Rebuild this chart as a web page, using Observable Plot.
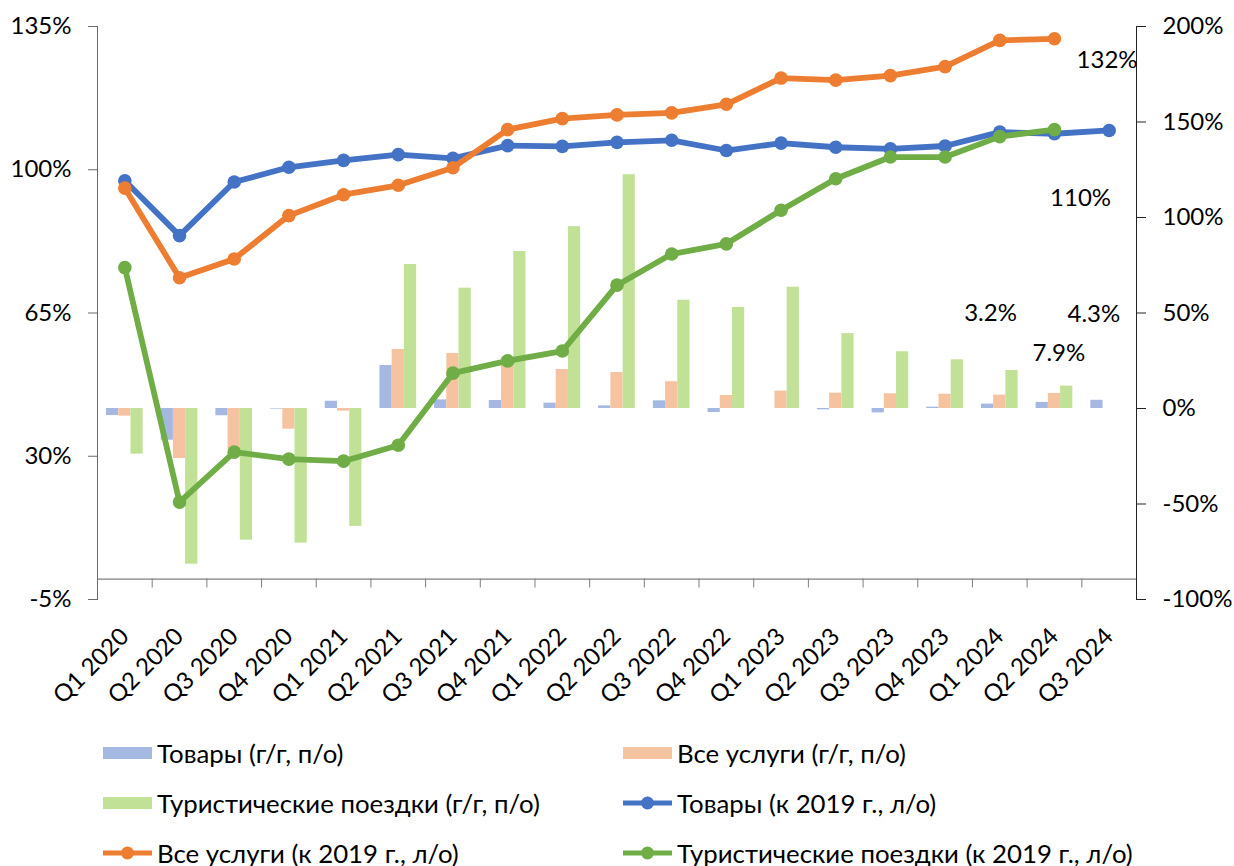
<!DOCTYPE html>
<html><head><meta charset="utf-8">
<script src="https://cdn.jsdelivr.net/npm/d3@7"></script>
<script src="https://cdn.jsdelivr.net/npm/@observablehq/plot@0.6"></script>
<style>
html,body{margin:0;padding:0;background:#fff;}
#wrap{position:relative;width:1234px;height:866px;font-family:Lato,"Open Sans",sans-serif;}
#legend{position:absolute;left:0;top:720px;width:1234px;height:146px;}
.item{position:absolute;display:flex;align-items:center;font-size:25.8px;color:#000;height:30px;white-space:nowrap;}
.item svg{margin-right:5px;}
</style></head><body><div id="wrap"><div id="chart"></div><div id="legend"></div></div>
<script>
const categories = ["Q1 2020","Q2 2020","Q3 2020","Q4 2020","Q1 2021","Q2 2021","Q3 2021","Q4 2021","Q1 2022","Q2 2022","Q3 2022","Q4 2022","Q1 2023","Q2 2023","Q3 2023","Q4 2023","Q1 2024","Q2 2024","Q3 2024"];

// bars, right axis (г/г, п/о)
const goodsYoY    = [-3.7,-16.6,-3.8,-0.3,3.8,22.5,4.5,4.2,2.8,1.4,4.0,-2.1,0,-0.7,-2.3,0.7,2.3,3.2,4.3];
const servicesYoY = [-4.0,-26.2,-22.0,-10.8,-1.4,30.9,28.8,26.5,20.4,18.8,14.0,6.8,9.1,8.0,7.7,7.5,7.0,7.9,null];
const tripsYoY    = [-23.9,-81.5,-68.9,-70.5,-61.7,75.4,63.0,82.2,95.2,122.4,56.7,52.9,63.5,39.2,29.7,25.5,19.9,11.7,null];

// lines, left axis (к 2019 г., л/о)
const goodsIdx    = [97.3,83.9,97.0,100.6,102.3,103.7,102.8,105.9,105.7,106.7,107.2,104.7,106.5,105.5,105.1,105.8,109.2,108.8,109.6];
const servicesIdx = [95.5,73.6,78.2,88.8,93.9,96.2,100.5,109.8,112.5,113.4,113.9,116.0,122.4,121.9,123.0,125.2,131.6,132.0,null];
const tripsIdx    = [76.1,18.8,31.0,29.3,28.8,32.7,50.3,53.3,55.7,71.8,79.4,81.9,90.1,97.8,103.1,103.1,108.1,109.8,null];

const leftTicks  = [-5,30,65,100,135];
const rightTicks = [-100,-50,0,50,100,150,200];

const barNames  = ["Товары (г/г, п/о)","Все услуги (г/г, п/о)","Туристические поездки (г/г, п/о)"];
const lineNames = ["Товары (к 2019 г., л/о)","Все услуги (к 2019 г., л/о)","Туристические поездки (к 2019 г., л/о)"];
const barColors  = ["#A5B8E2","#F5C3A0","#C1E296"];
const lineColors = ["#4472C4","#ED7D31","#70AD47"];

// annotations attached to a series point
const annotations = [
  {text:"132%", series:"servicesIdx", cat:"Q2 2024", dx:52.6, dy:21.7},
  {text:"110%", series:"goodsIdx", cat:"Q3 2024", dx:-28.6, dy:67.5},
  {text:"3.2%", series:"goodsYoY", cat:"Q2 2024", dx:-63.9, dy:-89},
  {text:"4.3%", series:"goodsYoY", cat:"Q3 2024", dx:-15.3, dy:-85.5},
  {text:"7.9%", series:"servicesYoY", cat:"Q2 2024", dx:4.4, dy:-40}
];

const LMIN = -5, LMAX = 135, RMIN = -100, RMAX = 200;
const toLeft = r => LMIN + (r - RMIN) * (LMAX - LMIN) / (RMAX - RMIN);
const fromLeft = l => RMIN + (l - LMIN) * (RMAX - RMIN) / (LMAX - LMIN);

const W = 1234, H = 720, ML = 97, MR = 98, MT = 26, MB = 121;
const bw = (W - ML - MR) / categories.length;
const barW = bw * 0.2235;
const side = (bw - 3 * barW) / 2;
const innerH = H - MT - MB;
const zeroOffset = innerH * (0 - LMIN) / (LMAX - LMIN);

const barSeries = [goodsYoY, servicesYoY, tripsYoY];
const lineSeries = [goodsIdx, servicesIdx, tripsIdx];
const seriesMap = {goodsYoY, servicesYoY, tripsYoY, goodsIdx, servicesIdx, tripsIdx};

const barMarks = barSeries.map((vals, k) => {
  const rows = categories.map((c, i) => ({cat: c, v: vals[i]})).filter(d => d.v != null);
  return Plot.barY(rows, {
    x: "cat", y1: () => toLeft(0), y2: d => toLeft(d.v),
    fill: barColors[k],
    insetLeft: side + k * barW, insetRight: side + (2 - k) * barW
  });
});

const lineMarks = lineSeries.flatMap((vals, k) => {
  const rows = categories.map((c, i) => ({cat: c, v: vals[i]})).filter(d => d.v != null);
  return [
    Plot.line(rows, {x: "cat", y: "v", stroke: lineColors[k], strokeWidth: 5.8, strokeLinejoin: "round"}),
    Plot.dot(rows, {x: "cat", y: "v", fill: lineColors[k], r: 6.8})
  ];
});

const annRows = annotations.map(a => {
  const i = categories.indexOf(a.cat);
  const raw = seriesMap[a.series][i];
  const v = a.series.endsWith("YoY") ? toLeft(raw) : raw;
  return {...a, v};
});

const chart = Plot.plot({
  width: W, height: H,
  marginLeft: ML, marginRight: MR, marginTop: MT, marginBottom: MB,
  style: {fontFamily: 'Lato, "Open Sans", sans-serif', fontSize: "24px", color: "#000", background: "#fff"},
  x: {type: "band", domain: categories, padding: 0, round: false, axis: null},
  y: {domain: [LMIN, LMAX], axis: null},
  marks: [
    ...barMarks,
    Plot.ruleY([0], {stroke: "#7f7f7f", strokeWidth: 1.3}),
    Plot.axisX({anchor: "bottom", label: null, tickSize: 9, tickFormat: () => "", dx: -bw / 2, dy: -zeroOffset, stroke: "#7f7f7f"}),
    Plot.text(categories, {x: d => d, frameAnchor: "bottom", dy: 33, rotate: -45, textAnchor: "end", lineAnchor: "middle", fontSize: 24, fill: "#000"}),
    Plot.frame({anchor: "left", stroke: "#6b6b6b"}),
    Plot.frame({anchor: "right", stroke: "#222"}),
    Plot.axisY(leftTicks, {anchor: "left", label: null, tickSize: 9, tickPadding: 17, tickFormat: d => d + "%", fontSize: 24, stroke: "#6b6b6b", fill: "#000"}),
    Plot.axisY(rightTicks.map(toLeft), {anchor: "right", label: null, tickSize: 9, tickPadding: 17, tickFormat: d => Math.round(fromLeft(d)) + "%", fontSize: 24, stroke: "#222", fill: "#000"}),
    ...lineMarks,
    ...annRows.map(a => Plot.text([a], {x: "cat", y: "v", text: "text", dx: a.dx, dy: a.dy, textAnchor: "middle", lineAnchor: "middle", fontSize: 24, fill: "#000"}))
  ]
});
document.getElementById("chart").appendChild(chart);

// legend
const legend = document.getElementById("legend");
const items = [
  {label: barNames[0], kind: "bar", color: barColors[0]},
  {label: barNames[1], kind: "bar", color: barColors[1]},
  {label: barNames[2], kind: "bar", color: barColors[2]},
  {label: lineNames[0], kind: "line", color: lineColors[0]},
  {label: lineNames[1], kind: "line", color: lineColors[1]},
  {label: lineNames[2], kind: "line", color: lineColors[2]}
];
const colX = [103, 623];
items.forEach((it, j) => {
  const row = Math.floor(j / 2), col = j % 2;
  const div = document.createElement("div");
  div.className = "item";
  div.style.left = colX[col] + "px";
  div.style.top = (18 + row * 50) + "px";
  const sw = it.kind === "bar"
    ? `<svg width="49" height="14"><rect x="0" y="1" width="49" height="12" fill="${it.color}"/></svg>`
    : `<svg width="49" height="14"><line x1="0" x2="49" y1="7" y2="7" stroke="${it.color}" stroke-width="5" stroke-linecap="round"/><circle cx="24.5" cy="7" r="6.5" fill="${it.color}"/></svg>`;
  div.innerHTML = sw + `<span>${it.label}</span>`;
  legend.appendChild(div);
});
</script></body></html>
